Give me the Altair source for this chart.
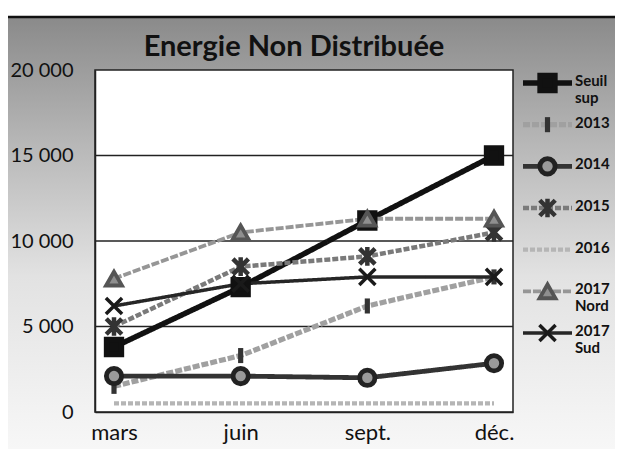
import altair as alt
import pandas as pd

months = ["mars", "juin", "sept.", "déc."]
series_names = ["Seuil sup", "2013", "2014", "2015", "2016", "2017 Nord", "2017 Sud"]
legend_labels = ["Seuil\nsup", "2013", "2014", "2015", "2016", "2017\nNord", "2017\nSud"]

seuil_sup = [3800, 7300, 11200, 15000]
v2013 = [1500, 3300, 6200, 7900]
v2014 = [2100, 2100, 2000, 2850]
v2015 = [5000, 8500, 9100, 10500]
v2016 = [500, 500, 500, 500]
v2017_nord = [7800, 10500, 11300, 11300]
v2017_sud = [6200, 7500, 7900, 7900]

grid_values = [5000, 10000, 15000]
y_ticks = [0, 5000, 10000, 15000, 20000]

all_values = [seuil_sup, v2013, v2014, v2015, v2016, v2017_nord, v2017_sud]
draw_order = {"2016": 0, "2013": 1, "2014": 2, "2015": 3, "2017 Nord": 4, "2017 Sud": 5, "Seuil sup": 6}

rows = []
for name, vals in zip(series_names, all_values):
    for m, v in zip(months, vals):
        rows.append({"series": name, "mois": m, "valeur": v, "ordre": draw_order[name]})
df = pd.DataFrame(rows)
marker_df = df[df["series"] != "2016"]

leg_df = pd.DataFrame({
    "series": series_names,
    "label": legend_labels,
    "idx": list(range(len(series_names))),
})
leg_marker_df = leg_df[leg_df["series"] != "2016"]

W, H = 418, 342
FONT = "Lato"

line_colors = ["#111111", "#a0a0a0", "#333333", "#7a7a7a", "#b5b5b5", "#969696", "#262626"]
line_widths = [5.5, 3.5, 4.5, 3.5, 3.5, 3.5, 5]
line_dashes = [[1, 0], [7, 2], [1, 0], [6, 2], [5, 2], [8, 2], [1, 0]]
X_PATH = "M-1,-1L1,1M-1,1L1,-1"
AST_PATH = "M-1,-1L1,1M-1,1L1,-1M0,-1.2V1.2"
VBAR_PATH = "M0,-1V1"
shapes = ["square", VBAR_PATH, "circle", AST_PATH, "circle", "triangle-up", X_PATH]
fills = ["#111111", "transparent", "#9a9a9a", "transparent", "transparent", "#8f8f8f", "transparent"]
strokes = ["#111111", "#333333", "#222222", "#333333", "#bdbdbd", "#555555", "#1a1a1a"]
sizes = [220, 260, 230, 380, 10, 260, 380]
stroke_ws = [1, 2, 1.5, 2, 1, 1.5, 2.5]

sc = lambda rng: alt.Scale(domain=series_names, range=rng)

x_scale = alt.Scale(domain=months, padding=0.15)
y_scale = alt.Scale(domain=[0, 20000])

y_axis = alt.Axis(values=y_ticks, grid=False, ticks=False,
                  labelFont=FONT, labelFontSize=20, labelColor="#111111",
                  labelPadding=22, domainColor="#222222", domainWidth=1.5,
                  zindex=2,
                  labelExpr="replace(format(datum.value, ','), ',', ' ')")
x_axis = alt.Axis(labelFont=FONT, labelFontSize=22, labelColor="#111111",
                  labelPadding=10, ticks=False, domainColor="#222222",
                  domainWidth=1.5, labelAngle=0, zindex=2)

gradient = alt.Gradient(
    gradient="linear",
    stops=[
        alt.GradientStop(color="#8a8a8a", offset=0),
        alt.GradientStop(color="#b8b8b8", offset=0.3),
        alt.GradientStop(color="#e2e2e2", offset=0.6),
        alt.GradientStop(color="#f7f7f7", offset=1),
    ],
    x1=0, x2=0, y1=0, y2=1,
)

base_bg = alt.Chart(pd.DataFrame({"a": [0]}))
bg = base_bg.mark_rect(color=gradient).encode(
    x=alt.value(-87), x2=alt.value(520), y=alt.value(-53), y2=alt.value(H + 37)
)
top_border = base_bg.mark_rule(color="#111111", strokeWidth=2.5).encode(
    x=alt.value(-87), x2=alt.value(520), y=alt.value(-53)
)
plot_bg = base_bg.mark_rect(color="white", stroke="#222222", strokeWidth=1.5).encode(
    x=alt.value(0), x2=alt.value(W), y=alt.value(0), y2=alt.value(H)
)
title = base_bg.mark_text(
    text="Energie Non Distribuée", font=FONT, fontSize=29, fontWeight="bold",
    color="#111111", baseline="middle", align="center"
).encode(x=alt.value(199), y=alt.value(-23))

lines = alt.Chart(df).mark_line(strokeCap="butt").encode(
    x=alt.X("mois:N", scale=x_scale, sort=months, title=None, axis=x_axis),
    y=alt.Y("valeur:Q", scale=y_scale, title=None, axis=y_axis),
    color=alt.Color("series:N", scale=sc(line_colors), legend=None),
    strokeWidth=alt.StrokeWidth("series:N", scale=sc(line_widths), legend=None),
    strokeDash=alt.StrokeDash("series:N", scale=sc(line_dashes), legend=None),
    detail="series:N",
    order=alt.Order("ordre:Q"),
)

grid = alt.Chart(pd.DataFrame({"g": grid_values})).mark_rule(
    color="#222222", strokeWidth=1.3
).encode(y=alt.Y("g:Q", scale=y_scale, title=None, axis=y_axis))

points = alt.Chart(marker_df).mark_point(filled=True, opacity=1).encode(
    x=alt.X("mois:N", scale=x_scale, sort=months, title=None, axis=x_axis),
    y=alt.Y("valeur:Q", scale=y_scale, title=None, axis=y_axis),
    shape=alt.Shape("series:N", scale=sc(shapes), legend=None),
    fill=alt.Fill("series:N", scale=sc(fills), legend=None),
    stroke=alt.Stroke("series:N", scale=sc(strokes), legend=None),
    size=alt.Size("series:N", scale=sc(sizes), legend=None),
    strokeWidth=alt.StrokeWidth("series:N", scale=sc(stroke_ws), legend=None),
)

main = alt.layer(bg, top_border, plot_bg, title, grid, lines, points)

lx = alt.Scale(domain=[0, 1], range=[428, 477])
ly = alt.Scale(domain=[0, 6], range=[13, 263])

leg_lines = alt.Chart(leg_df).mark_rule(strokeCap="butt").encode(
    x=alt.X("x0:Q", scale=lx, axis=None),
    x2="x1:Q",
    y=alt.Y("idx:Q", scale=ly, axis=None),
    color=alt.Color("series:N", scale=sc(line_colors), legend=None),
    strokeWidth=alt.StrokeWidth("series:N", scale=sc(line_widths), legend=None),
    strokeDash=alt.StrokeDash("series:N", scale=sc(line_dashes), legend=None),
).transform_calculate(x0="0", x1="1")

leg_points = alt.Chart(leg_marker_df).mark_point(filled=True, opacity=1).encode(
    x=alt.X("xm:Q", scale=lx, axis=None),
    y=alt.Y("idx:Q", scale=ly, axis=None),
    shape=alt.Shape("series:N", scale=sc(shapes), legend=None),
    fill=alt.Fill("series:N", scale=sc(fills), legend=None),
    stroke=alt.Stroke("series:N", scale=sc(strokes), legend=None),
    size=alt.Size("series:N", scale=sc(sizes), legend=None),
    strokeWidth=alt.StrokeWidth("series:N", scale=sc(stroke_ws), legend=None),
).transform_calculate(xm="0.5")

leg_text = alt.Chart(leg_df).mark_text(
    font=FONT, fontSize=15, fontWeight="bold", color="#111111",
    align="left", baseline="top", dy=-9, lineBreak="\n", lineHeight=17
).encode(
    x=alt.X("xt:Q", scale=lx, axis=None),
    y=alt.Y("idx:Q", scale=ly, axis=None),
    text="label:N",
).transform_calculate(xt="1.06")

legend = alt.layer(leg_lines, leg_points, leg_text)

chart = alt.layer(main, legend).resolve_scale(
    x="independent", y="independent"
).properties(
    width=W, height=H,
    autosize=alt.AutoSizeParams(type="none"),
    padding={"left": 87, "top": 62, "right": 102, "bottom": 37},
    background="white",
).configure_view(stroke=None)

chart.save("out.html", embed_options={"renderer": "svg", "actions": False})
